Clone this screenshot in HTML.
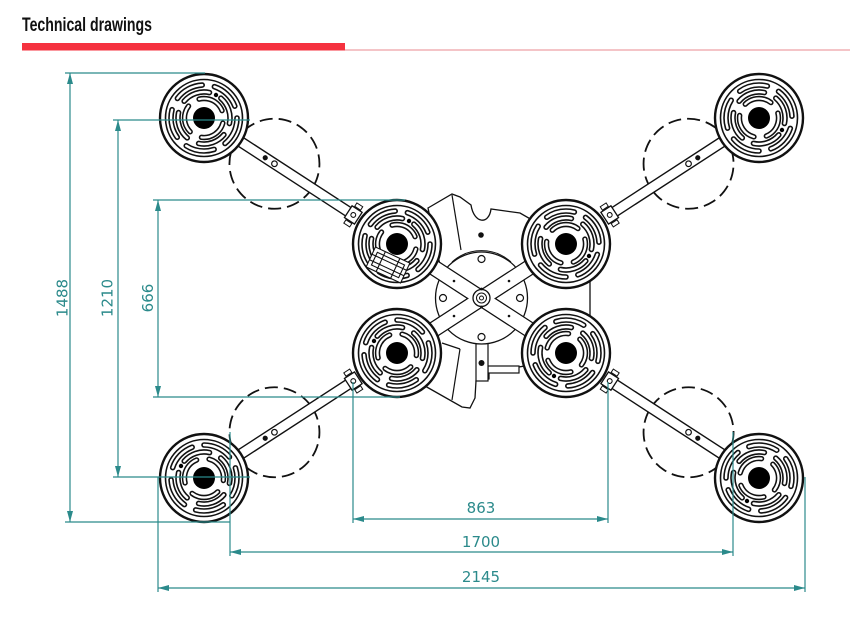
<!DOCTYPE html>
<html>
<head>
<meta charset="utf-8">
<style>
html,body{margin:0;padding:0;background:#fff;}
svg{display:block;}
</style>
</head>
<body>
<svg width="865" height="629" viewBox="0 0 865 629" xmlns="http://www.w3.org/2000/svg">
<defs>
  <g id="pad">
    <circle r="44" fill="#fff" stroke="#111" stroke-width="2.4"/>
    <circle r="38.5" fill="none" stroke="#111" stroke-width="1.6"/>
    <circle r="33" fill="none" stroke="#111" stroke-width="5.6" stroke-dasharray="29 12.47" stroke-linecap="round"/>
    <circle r="33" fill="none" stroke="#fff" stroke-width="2.4" stroke-dasharray="29 12.47" stroke-linecap="round"/>
    <circle r="26" fill="none" stroke="#111" stroke-width="5.6" stroke-dasharray="28 12.84" stroke-linecap="round" transform="rotate(40)"/>
    <circle r="26" fill="none" stroke="#fff" stroke-width="2.4" stroke-dasharray="28 12.84" stroke-linecap="round" transform="rotate(40)"/>
    <circle r="19.5" fill="none" stroke="#111" stroke-width="5.4" stroke-dasharray="28 12.84" stroke-linecap="round" transform="rotate(15)"/>
    <circle r="19.5" fill="none" stroke="#fff" stroke-width="2.3" stroke-dasharray="28 12.84" stroke-linecap="round" transform="rotate(15)"/>
    <circle r="11" fill="#000"/>
    <circle cx="12" cy="-23" r="2.2" fill="#000"/>
  </g>
  <g id="arm">
    <circle cx="84" cy="0" r="45" fill="none" stroke="#111" stroke-width="1.8" stroke-dasharray="13 6"/>
    <rect x="30" y="-5" width="143" height="10" fill="#fff" stroke="#111" stroke-width="1.4"/>
    <circle cx="73" cy="0" r="2.6" fill="#111"/>
    <circle cx="84" cy="0" r="2.8" fill="#fff" stroke="#111" stroke-width="1.2"/>
    <rect x="172" y="-7" width="12" height="14" fill="#fff" stroke="#111" stroke-width="1.3"/>
    <circle cx="178" cy="0" r="2.4" fill="none" stroke="#111" stroke-width="1.1"/>
    <rect x="174.5" y="-12" width="7" height="4" fill="#fff" stroke="#111" stroke-width="1"/>
    <rect x="174.5" y="8" width="7" height="4" fill="#fff" stroke="#111" stroke-width="1"/>
  </g>
</defs>

<!-- Header -->
<text x="22" y="31" font-family="'Liberation Sans Narrow','Liberation Sans',sans-serif" font-weight="bold" font-size="19" fill="#111" textLength="130" lengthAdjust="spacingAndGlyphs">Technical drawings</text>
<rect x="345" y="49.5" width="505" height="1" fill="#e98a8f"/>
<rect x="22" y="43" width="323" height="7.5" fill="#f5323f"/>

<!-- Arms with dashed circles -->
<use href="#arm" transform="translate(204,118) rotate(33)"/>
<use href="#arm" transform="translate(759,118) rotate(147)"/>
<use href="#arm" transform="translate(204,478) rotate(-33)"/>
<use href="#arm" transform="translate(759,478) rotate(-147)"/>

<!-- Mount plate -->
<path d="M 428,208 L 452,194 L 460,197 L 471,205 C 474,224 489,225 491,209 L 520,213 L 560,236 L 590,282 L 590,316 L 560,360 L 489,372 L 489,379 L 476,381 L 475,398 L 470,408 L 462,407 L 425,386 L 440,330 L 445,300 L 440,265 Z" fill="#fff" stroke="#111" stroke-width="1.3"/>
<line x1="452" y1="195" x2="461" y2="250" stroke="#111" stroke-width="1.2"/>
<line x1="442" y1="343" x2="460" y2="349" stroke="#111" stroke-width="1.2"/>
<line x1="460" y1="349" x2="452" y2="400" stroke="#111" stroke-width="1.2"/>
<circle cx="481" cy="235" r="2.8" fill="#111"/>

<!-- bottom bracket and rod -->
<rect x="488" y="366" width="31" height="7" fill="#fff" stroke="#111" stroke-width="1.2"/>
<rect x="476" y="343" width="12" height="38" fill="#fff" stroke="#111" stroke-width="1.2"/>
<circle cx="481.5" cy="363" r="3" fill="#111"/>

<!-- Central disc -->
<circle cx="481.5" cy="298" r="46" fill="#fff" stroke="#111" stroke-width="1.3"/>
<path d="M 452,262 A 44 44 0 0 1 511,262" fill="none" stroke="#111" stroke-width="1"/>

<!-- Cross bands (union outline) -->
<g transform="translate(481.5,298.5)">
  <rect x="-100" y="-7.5" width="200" height="15" fill="#fff" stroke="#111" stroke-width="1.3" transform="rotate(33)"/>
  <rect x="-100" y="-7.5" width="200" height="15" fill="#fff" stroke="#111" stroke-width="1.3" transform="rotate(-33)"/>
  <rect x="-99" y="-6.8" width="198" height="13.6" fill="#fff" transform="rotate(33)"/>
  <rect x="-99" y="-6.8" width="198" height="13.6" fill="#fff" transform="rotate(-33)"/>
</g>

<!-- Hub -->
<circle cx="481.5" cy="298" r="8.5" fill="#fff" stroke="#111" stroke-width="1.3"/>
<circle cx="481.5" cy="298" r="5" fill="none" stroke="#111" stroke-width="1"/>
<circle cx="481.5" cy="298" r="2" fill="none" stroke="#111" stroke-width="1"/>
<circle cx="481.5" cy="289" r="1.4" fill="#111"/>
<circle cx="481.5" cy="307" r="1.4" fill="#111"/>

<!-- holes -->
<circle cx="481.5" cy="259" r="3.5" fill="#fff" stroke="#111" stroke-width="1.2"/>
<circle cx="481.5" cy="337" r="3.5" fill="#fff" stroke="#111" stroke-width="1.2"/>
<circle cx="443" cy="298" r="3.5" fill="#fff" stroke="#111" stroke-width="1.2"/>
<circle cx="520" cy="298" r="3.5" fill="#fff" stroke="#111" stroke-width="1.2"/>
<circle cx="454" cy="281" r="1.3" fill="#111"/>
<circle cx="509" cy="281" r="1.3" fill="#111"/>
<circle cx="454" cy="316" r="1.3" fill="#111"/>
<circle cx="509" cy="316" r="1.3" fill="#111"/>

<!-- Inner pads -->
<use href="#pad" transform="translate(397,244)"/>
<use href="#pad" transform="translate(566,244) rotate(90)"/>
<use href="#pad" transform="translate(397,353) rotate(-90)"/>
<use href="#pad" transform="translate(566,353) rotate(180)"/>

<!-- valve mechanism on TL inner pad -->
<g transform="translate(388,265) rotate(25)" fill="none" stroke="#111" stroke-width="1.1">
  <rect x="-19" y="-11" width="38" height="22" fill="#fff"/>
  <rect x="-15" y="-7" width="30" height="14"/>
  <line x1="-19" y1="-3" x2="19" y2="-3"/>
  <line x1="-19" y1="3" x2="19" y2="3"/>
  <line x1="-8" y1="-11" x2="-8" y2="11"/>
  <line x1="8" y1="-11" x2="8" y2="11"/>
</g>

<!-- Outer pads -->
<use href="#pad" transform="translate(204,118)"/>
<use href="#pad" transform="translate(759,118) rotate(90)"/>
<use href="#pad" transform="translate(204,478) rotate(-90)"/>
<use href="#pad" transform="translate(759,478) rotate(180)"/>

<!-- Dimensions -->
<g stroke="#2b8a8b" stroke-width="1.2" fill="none">
  <!-- 1488 -->
  <line x1="70" y1="73" x2="70" y2="522"/>
  <line x1="65" y1="73" x2="205" y2="73"/>
  <line x1="65" y1="522" x2="230" y2="522"/>
  <!-- 1210 -->
  <line x1="118" y1="120" x2="118" y2="477"/>
  <line x1="113" y1="120" x2="250" y2="120"/>
  <line x1="113" y1="477" x2="250" y2="477"/>
  <!-- 666 -->
  <line x1="158" y1="200" x2="158" y2="397"/>
  <line x1="153" y1="200" x2="405" y2="200"/>
  <line x1="153" y1="397" x2="400" y2="397"/>
  <!-- 863 -->
  <line x1="353" y1="519" x2="608" y2="519"/>
  <line x1="353" y1="382" x2="353" y2="523"/>
  <line x1="608" y1="382" x2="608" y2="523"/>
  <!-- 1700 -->
  <line x1="230" y1="552" x2="733" y2="552"/>
  <line x1="230" y1="432" x2="230" y2="556"/>
  <line x1="733" y1="432" x2="733" y2="556"/>
  <!-- 2145 -->
  <line x1="158" y1="588" x2="805" y2="588"/>
  <line x1="158" y1="477" x2="158" y2="592"/>
  <line x1="805" y1="477" x2="805" y2="592"/>
</g>
<g fill="#2b8a8b">
  <polygon points="70,73 67,84 73,84"/>
  <polygon points="70,522 67,511 73,511"/>
  <polygon points="118,120 115,131 121,131"/>
  <polygon points="118,477 115,466 121,466"/>
  <polygon points="158,200 155,211 161,211"/>
  <polygon points="158,397 155,386 161,386"/>
  <polygon points="353,519 364,516 364,522"/>
  <polygon points="608,519 597,516 597,522"/>
  <polygon points="230,552 241,549 241,555"/>
  <polygon points="733,552 722,549 722,555"/>
  <polygon points="158,588 169,585 169,591"/>
  <polygon points="805,588 794,585 794,591"/>
</g>
<g font-family="'DejaVu Sans','Liberation Sans',sans-serif" font-size="15" fill="#2b8a8b" text-anchor="middle">
  <text transform="translate(67.5,298) rotate(-90)">1488</text>
  <text transform="translate(112.5,298) rotate(-90)">1210</text>
  <text transform="translate(153,298) rotate(-90)">666</text>
  <text x="481" y="513">863</text>
  <text x="481" y="547">1700</text>
  <text x="481" y="582">2145</text>
</g>
</svg>
</body>
</html>
